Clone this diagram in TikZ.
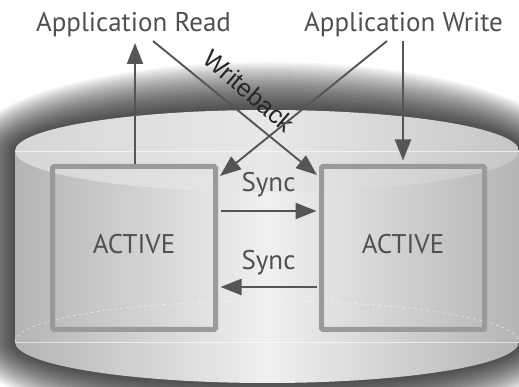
\documentclass[tikz,border=0pt]{standalone}
\usepackage{fontspec}
\setmainfont{PT Sans}
\newfontfamily\wbfont{Liberation Sans}
\usetikzlibrary{arrows.meta,calc}
\definecolor{arrowgray}{HTML}{555555}
\definecolor{boxgray}{HTML}{9A9A9A}
\definecolor{textgray}{HTML}{505050}
\definecolor{cylside}{HTML}{B4B4B4}
\definecolor{cyllight}{HTML}{F0F0F0}
\definecolor{topleft}{HTML}{D6D6D6}
\definecolor{topmid}{HTML}{E8E8E8}
\definecolor{topright}{HTML}{C6C6C6}

\begin{document}
\begin{tikzpicture}[x=1pt,y=1pt,
  flow/.style={draw=arrowgray,line width=2.3pt,-{Triangle[length=21pt,width=16pt]}},
  cross/.style={draw=arrowgray,line width=1.9pt,-{Triangle[length=21pt,width=16pt]}},
  activebox/.style={draw=boxgray,line width=5pt,rounded corners=1.5pt,
    minimum width=163pt,minimum height=163pt,text depth=8pt,
    text=textgray,font=\fontsize{27}{30}\selectfont},
  apptext/.style={text=textgray,font=\fontsize{27}{30}\selectfont,inner sep=0pt},
  synctext/.style={text=textgray,font=\fontsize{27}{30}\selectfont}]
\useasboundingbox (0,0) rectangle (519,387);
\fill[white] (0,0) rectangle (519,387);

% Glow round the cylinder
\foreach \k in {2,4,...,48}
  \fill[black,fill opacity=0.045] (15-\k,236)
    arc[start angle=180,end angle=0,x radius=252+\k,y radius=41+\k]
    -- (519+\k,45)
    arc[start angle=0,end angle=-180,x radius=252+\k,y radius=41+\k] -- cycle;

% Cylinder
\shade[left color=cylside,right color=cylside,middle color=cyllight]
  (15,236) -- (15,45) arc[start angle=180,end angle=360,x radius=252,y radius=41]
  -- (519,236) -- cycle;
\shade[left color=topleft,right color=topright,middle color=topmid]
  (267,236) ellipse[x radius=252,y radius=41];
\draw[white,opacity=0.6,line width=0.5pt] (15,236) -- (519,236);
\draw[white,opacity=0.6,line width=0.5pt] (15,45) -- (519,45);
\draw[white,opacity=0.6,line width=0.6pt,dashed]
  (15,45) arc[start angle=180,end angle=0,x radius=252,y radius=41];

% Active stores
\node[activebox] (leftbox) at (134,139) {ACTIVE};
\node[activebox] (rightbox) at (403,139) {ACTIVE};

% Application side
\node[apptext,anchor=base] (appread) at (133.5,355) {Application Read};
\node[apptext,anchor=base] (appwrite) at (403.5,355) {Application Write};
\coordinate (readtip) at (135,344);
\coordinate (readtail) at (153,346);
\coordinate (writetail) at (387,346);
\coordinate (writetop) at (403,346);

\draw[flow] (leftbox.north -| readtip) -- (readtip);
\draw[flow,shorten >=3.5pt] (writetop) -- (rightbox.north);

% Writeback and crossing write
\draw[cross] (readtail) -- ($(rightbox.north west)+(-2,-11)$)
  node[midway,xshift=14pt,yshift=17pt,rotate=-41,text=black!85,
       font={\wbfont\fontsize{25}{28}\selectfont}] {Writeback};
\draw[cross] (writetail) -- ($(leftbox.north east)+(2,-12)$);

% Sync between the stores
\draw[flow,shorten <=2.5pt,shorten >=2.5pt] (leftbox.east |- 0,176) -- (rightbox.west |- 0,176)
  node[synctext,midway,above,yshift=9pt] {Sync};
\draw[flow,shorten <=2.5pt,shorten >=2.5pt] (rightbox.west |- 0,100) -- (leftbox.east |- 0,100)
  node[synctext,midway,above,yshift=7pt] {Sync};
\end{tikzpicture}
\end{document}
